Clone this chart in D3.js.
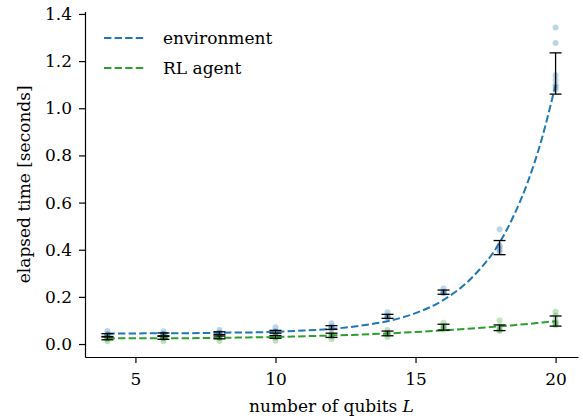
<!DOCTYPE html>
<html>
<head>
<meta charset="utf-8">
<script src="https://cdn.jsdelivr.net/npm/d3@7"></script>
<style>
  html, body { margin: 0; padding: 0; background: #fff; }
  svg { display: block; }
</style>
</head>
<body>
<svg id="chart" width="583" height="418"></svg>
<script>
// ---- data ----
const qubits = [4, 6, 8, 10, 12, 14, 16, 18, 20];

const envSamples = [
  [0.055, 0.042, 0.040, 0.038, 0.036],
  [0.054, 0.044, 0.041, 0.040, 0.038],
  [0.060, 0.049, 0.046, 0.045, 0.043],
  [0.071, 0.055, 0.052, 0.050, 0.048],
  [0.088, 0.074, 0.070, 0.068, 0.065],
  [0.135, 0.120, 0.117, 0.115, 0.112],
  [0.236, 0.222, 0.220, 0.218, 0.215],
  [0.487, 0.420, 0.410, 0.400, 0.390],
  [1.343, 1.277, 1.140, 1.120, 1.100, 1.090, 1.080]
];
const agentSamples = [
  [0.012, 0.022, 0.024, 0.026, 0.030],
  [0.012, 0.024, 0.026, 0.028, 0.031],
  [0.013, 0.026, 0.028, 0.030, 0.033],
  [0.014, 0.028, 0.030, 0.032, 0.035],
  [0.020, 0.033, 0.036, 0.040, 0.044],
  [0.030, 0.042, 0.045, 0.048, 0.060],
  [0.062, 0.068, 0.072, 0.076, 0.090],
  [0.055, 0.060, 0.065, 0.075, 0.100],
  [0.080, 0.085, 0.090, 0.100, 0.120, 0.137]
];

const envErrLow  = [0.032, 0.035, 0.040, 0.046, 0.062, 0.109, 0.211, 0.379, 1.060];
const envErrHigh = [0.044, 0.047, 0.052, 0.058, 0.078, 0.126, 0.229, 0.439, 1.235];
const agentErrLow  = [0.018, 0.020, 0.022, 0.024, 0.028, 0.035, 0.059, 0.057, 0.076];
const agentErrHigh = [0.030, 0.032, 0.034, 0.036, 0.046, 0.055, 0.084, 0.081, 0.119];

// fitted curves
const fitL = [4, 5, 6, 7, 8, 9, 10, 11, 12, 13, 14, 15, 16, 17, 18, 18.5, 19, 19.5, 20];
const envFit = [0.045, 0.045, 0.046, 0.046, 0.048, 0.049, 0.052, 0.057, 0.064, 0.077, 0.097, 0.131, 0.187, 0.280, 0.430, 0.543, 0.685, 0.867, 1.100];
const agentFit = [0.024, 0.024, 0.025, 0.025, 0.026, 0.028, 0.030, 0.033, 0.036, 0.040, 0.045, 0.051, 0.058, 0.066, 0.075, 0.080, 0.085, 0.091, 0.097];

const xTicks = [5, 10, 15, 20];
const yTicks = [0.0, 0.2, 0.4, 0.6, 0.8, 1.0, 1.2, 1.4];

const seriesNames = ["environment", "RL agent"];
const seriesColors = ["#1f77b4", "#2ca02c"];

// ---- layout ----
const FONT = "'DejaVu Serif', serif";
const FS = 17;
const svg = d3.select("#chart");
const x = d3.scaleLinear().domain([3.2, 20.8]).range([85, 578]);
const y = d3.scaleLinear().domain([-0.055, 1.41]).range([357, 11.6]);

// fit lines
const line = d3.line().x(d => x(d[0])).y(d => y(d[1])).curve(d3.curveMonotoneX);
[envFit, agentFit].forEach((fit, i) => {
  svg.append("path")
    .datum(fitL.map((l, k) => [l, fit[k]]))
    .attr("d", line)
    .attr("fill", "none")
    .attr("stroke", seriesColors[i])
    .attr("stroke-width", 2)
    .attr("stroke-dasharray", "7.4,3.2");
});

// scatter
[envSamples, agentSamples].forEach((samples, i) => {
  const pts = [];
  samples.forEach((arr, k) => arr.forEach(v => pts.push([qubits[k], v])));
  svg.append("g").selectAll("circle").data(pts).join("circle")
    .attr("cx", d => x(d[0]))
    .attr("cy", d => y(d[1]))
    .attr("r", 3)
    .attr("fill", seriesColors[i])
    .attr("fill-opacity", 0.3);
});

// error bars
[[envErrLow, envErrHigh], [agentErrLow, agentErrHigh]].forEach(([lo, hi]) => {
  const g = svg.append("g").attr("stroke", "#000").attr("stroke-width", 1.3);
  qubits.forEach((q, k) => {
    const cx = x(q);
    g.append("line").attr("x1", cx).attr("x2", cx).attr("y1", y(lo[k])).attr("y2", y(hi[k]));
    g.append("line").attr("x1", cx - 6).attr("x2", cx + 6).attr("y1", y(lo[k])).attr("y2", y(lo[k]));
    g.append("line").attr("x1", cx - 6).attr("x2", cx + 6).attr("y1", y(hi[k])).attr("y2", y(hi[k]));
  });
});

// axes
const xAxis = d3.axisBottom(x).tickValues(xTicks).tickSize(6).tickSizeOuter(0).tickPadding(10).tickFormat(d3.format("d"));
const yAxis = d3.axisLeft(y).tickValues(yTicks).tickSize(6).tickSizeOuter(0).tickPadding(7).tickFormat(d3.format(".1f"));

const gx = svg.append("g").attr("transform", `translate(0,${y.range()[0]})`).call(xAxis);
const gy = svg.append("g").attr("transform", `translate(${x.range()[0]},0)`).call(yAxis);
[gx, gy].forEach(g => {
  g.attr("font-family", FONT).attr("font-size", FS);
  g.select(".domain").attr("stroke", "#000").attr("stroke-width", 1.2);
  g.selectAll(".tick line").attr("stroke", "#000").attr("stroke-width", 1.2);
  g.selectAll(".tick text").attr("fill", "#000");
});

// axis labels
const xl = svg.append("text")
  .attr("x", (x.range()[0] + x.range()[1]) / 2)
  .attr("y", 412)
  .attr("text-anchor", "middle")
  .attr("font-family", FONT)
  .attr("font-size", FS);
xl.append("tspan").text("number of qubits ");
xl.append("tspan").attr("font-style", "italic").text("L");

svg.append("text")
  .attr("transform", `translate(30,${(y.range()[0] + y.range()[1]) / 2}) rotate(-90)`)
  .attr("text-anchor", "middle")
  .attr("font-family", FONT)
  .attr("font-size", FS)
  .text("elapsed time [seconds]");

// legend
seriesNames.forEach((name, i) => {
  const ly = 38 + i * 30;
  svg.append("line")
    .attr("x1", 104).attr("x2", 146).attr("y1", ly).attr("y2", ly)
    .attr("stroke", seriesColors[i]).attr("stroke-width", 2)
    .attr("stroke-dasharray", "7.4,3.2");
  svg.append("text")
    .attr("x", 163).attr("y", ly + 6)
    .attr("font-family", FONT)
    .attr("font-size", FS)
    .text(name);
});
</script>
</body>
</html>
